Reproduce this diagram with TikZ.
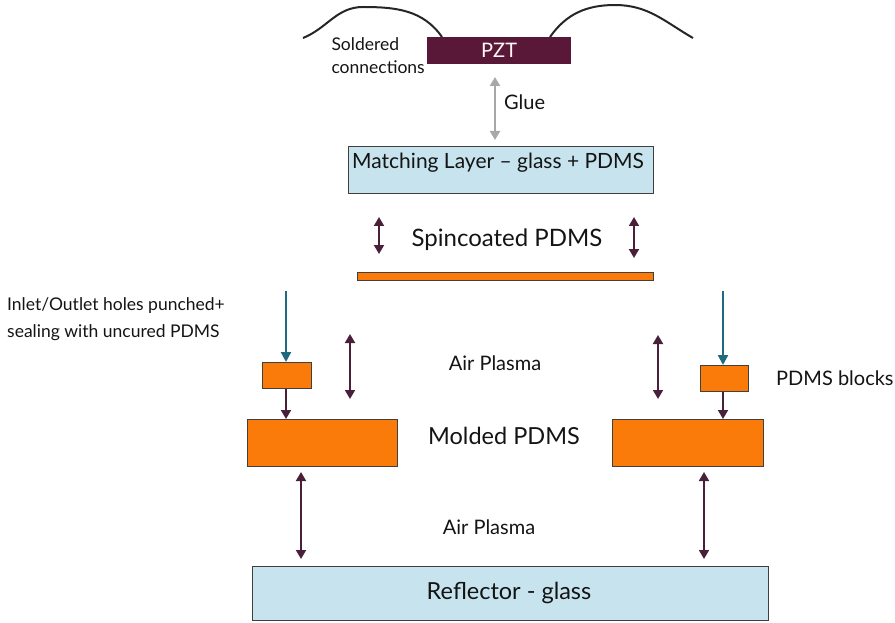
\documentclass[tikz,border=0pt]{standalone}
\usepackage{fontspec}
\setmainfont{Lato}
\usetikzlibrary{arrows.meta}
\definecolor{pztcol}{HTML}{5A1838}
\definecolor{glasscol}{HTML}{C7E4EE}
\definecolor{pdmscol}{HTML}{FA7A0A}
\definecolor{arrcol}{HTML}{4A1F3A}
\definecolor{tealcol}{HTML}{1F6A80}
\definecolor{gluecol}{HTML}{A8A8A8}
\definecolor{txtcol}{HTML}{141414}
\tikzset{
  layer/.style={draw=black!75, line width=1.3pt, inner sep=0pt, anchor=north west},
  glassbox/.style={layer, fill=glasscol},
  pdmsbox/.style={layer, fill=pdmscol},
  lbl/.style={text=txtcol, inner sep=0pt, font=\fontsize{20}{23}\selectfont},
  head/.tip={Triangle[width=10pt,length=9pt]},
  dbl/.style={head-head, draw=arrcol, line width=1.8pt},
  down/.style={-head, draw=arrcol, line width=1.8pt},
  feed/.style={-{Triangle[width=10pt,length=10pt]}, draw=tealcol, line width=2.2pt},
  wire/.style={draw=black!85, line width=2pt}
}
\begin{document}
\begin{tikzpicture}[x=1pt,y=-1pt]
\useasboundingbox (0,0) rectangle (895,623);

% transducer and its leads
\node[layer, fill=pztcol, draw=pztcol, minimum width=143pt, minimum height=26pt] (pzt) at (427,37) {};
\node[text=white!88!pink, font=\fontsize{20}{23}\selectfont] (pztlbl) at (pzt.center) {PZT};
\coordinate (wl) at (442,37);
\coordinate (wr) at (550,37);
\coordinate (wle) at (303,38);
\coordinate (wre) at (693,38);
\coordinate (pkl) at (363,7);
\coordinate (pkr) at (615,5);
\draw[wire] (wle) to[out=22,in=180] (pkl) to[out=0,in=125] (wl);
\draw[wire] (wr) to[out=55,in=180] (pkr) to[out=0,in=150] (wre);
\node[lbl, align=left, anchor=north east, font=\fontsize{17.5}{23.5}\selectfont] (solder) at (425,37) {Soldered\\connections};

% matching layer
\node[glassbox, minimum width=305pt, minimum height=47pt] (match) at (348,146) {};
\node[lbl, anchor=west, font=\fontsize{21}{24}\selectfont] (matchtxt) at (352,163) {Matching Layer -- glass + PDMS};
\coordinate (g1) at (495,77);
\coordinate (g2) at (495,140);
\draw[{Triangle[width=10pt,length=9pt]}-{Triangle[width=10pt,length=9pt]}, draw=gluecol, line width=2.2pt] (g1) -- (g2);
\node[lbl, anchor=west] (glue) at (504,102) {Glue};

% spin-coated film
\node[pdmsbox, minimum width=296pt, minimum height=8pt] (spin) at (357,272) {};
\node[lbl, font=\fontsize{24}{28}\selectfont] (spintxt) at (507,240) {Spincoated PDMS};
\coordinate (s1a) at (379,217); \coordinate (s1b) at (379,254);
\coordinate (s2a) at (634,217); \coordinate (s2b) at (634,258);
\draw[dbl] (s1a) -- (s1b);
\draw[dbl] (s2a) -- (s2b);

% molded PDMS and port blocks
\node[pdmsbox, minimum width=49pt, minimum height=26pt] (blkL) at (262,362) {};
\node[pdmsbox, minimum width=48pt, minimum height=26pt] (blkR) at (700,365) {};
\node[pdmsbox, minimum width=150pt, minimum height=47pt] (molL) at (247,419) {};
\node[pdmsbox, minimum width=151pt, minimum height=47pt] (molR) at (612,419) {};

\coordinate (tL) at (286,291);
\coordinate (tR) at (723,291);
\draw[feed] (tL) -- (blkL.north -| tL);
\draw[feed] (tR) -- (blkR.north -| tR);
\draw[down] (blkL.south -| tL) -- (molL.north -| tL);
\draw[down] (blkR.south -| tR) -- (molR.north -| tR);

\coordinate (a1a) at (350,334); \coordinate (a1b) at (350,399);
\coordinate (a2a) at (658,335); \coordinate (a2b) at (658,399);
\draw[dbl] (a1a) -- (a1b);
\draw[dbl] (a2a) -- (a2b);

\node[lbl, align=left, anchor=north west, font=\fontsize{17.5}{27}\selectfont] (inlet) at (7,297) {Inlet/Outlet holes punched+\\sealing with uncured PDMS};
\node[lbl, anchor=west] (blocks) at (776,378) {PDMS blocks};
\node[lbl] (air1) at (495,363) {Air Plasma};
\node[lbl, font=\fontsize{23.5}{27}\selectfont] (moldtxt) at (504,436) {Molded PDMS};

% reflector
\node[glassbox, minimum width=516pt, minimum height=54pt] (refl) at (252,566) {};
\node[lbl, font=\fontsize{23.5}{27}\selectfont] (refltxt) at (509,593) {Reflector - glass};
\node[lbl] (air2) at (489,527) {Air Plasma};
\coordinate (b1a) at (301,472); \coordinate (b1b) at (301,559);
\coordinate (b2a) at (704,472); \coordinate (b2b) at (704,559);
\draw[dbl] (b1a) -- (b1b);
\draw[dbl] (b2a) -- (b2b);
\end{tikzpicture}
\end{document}
